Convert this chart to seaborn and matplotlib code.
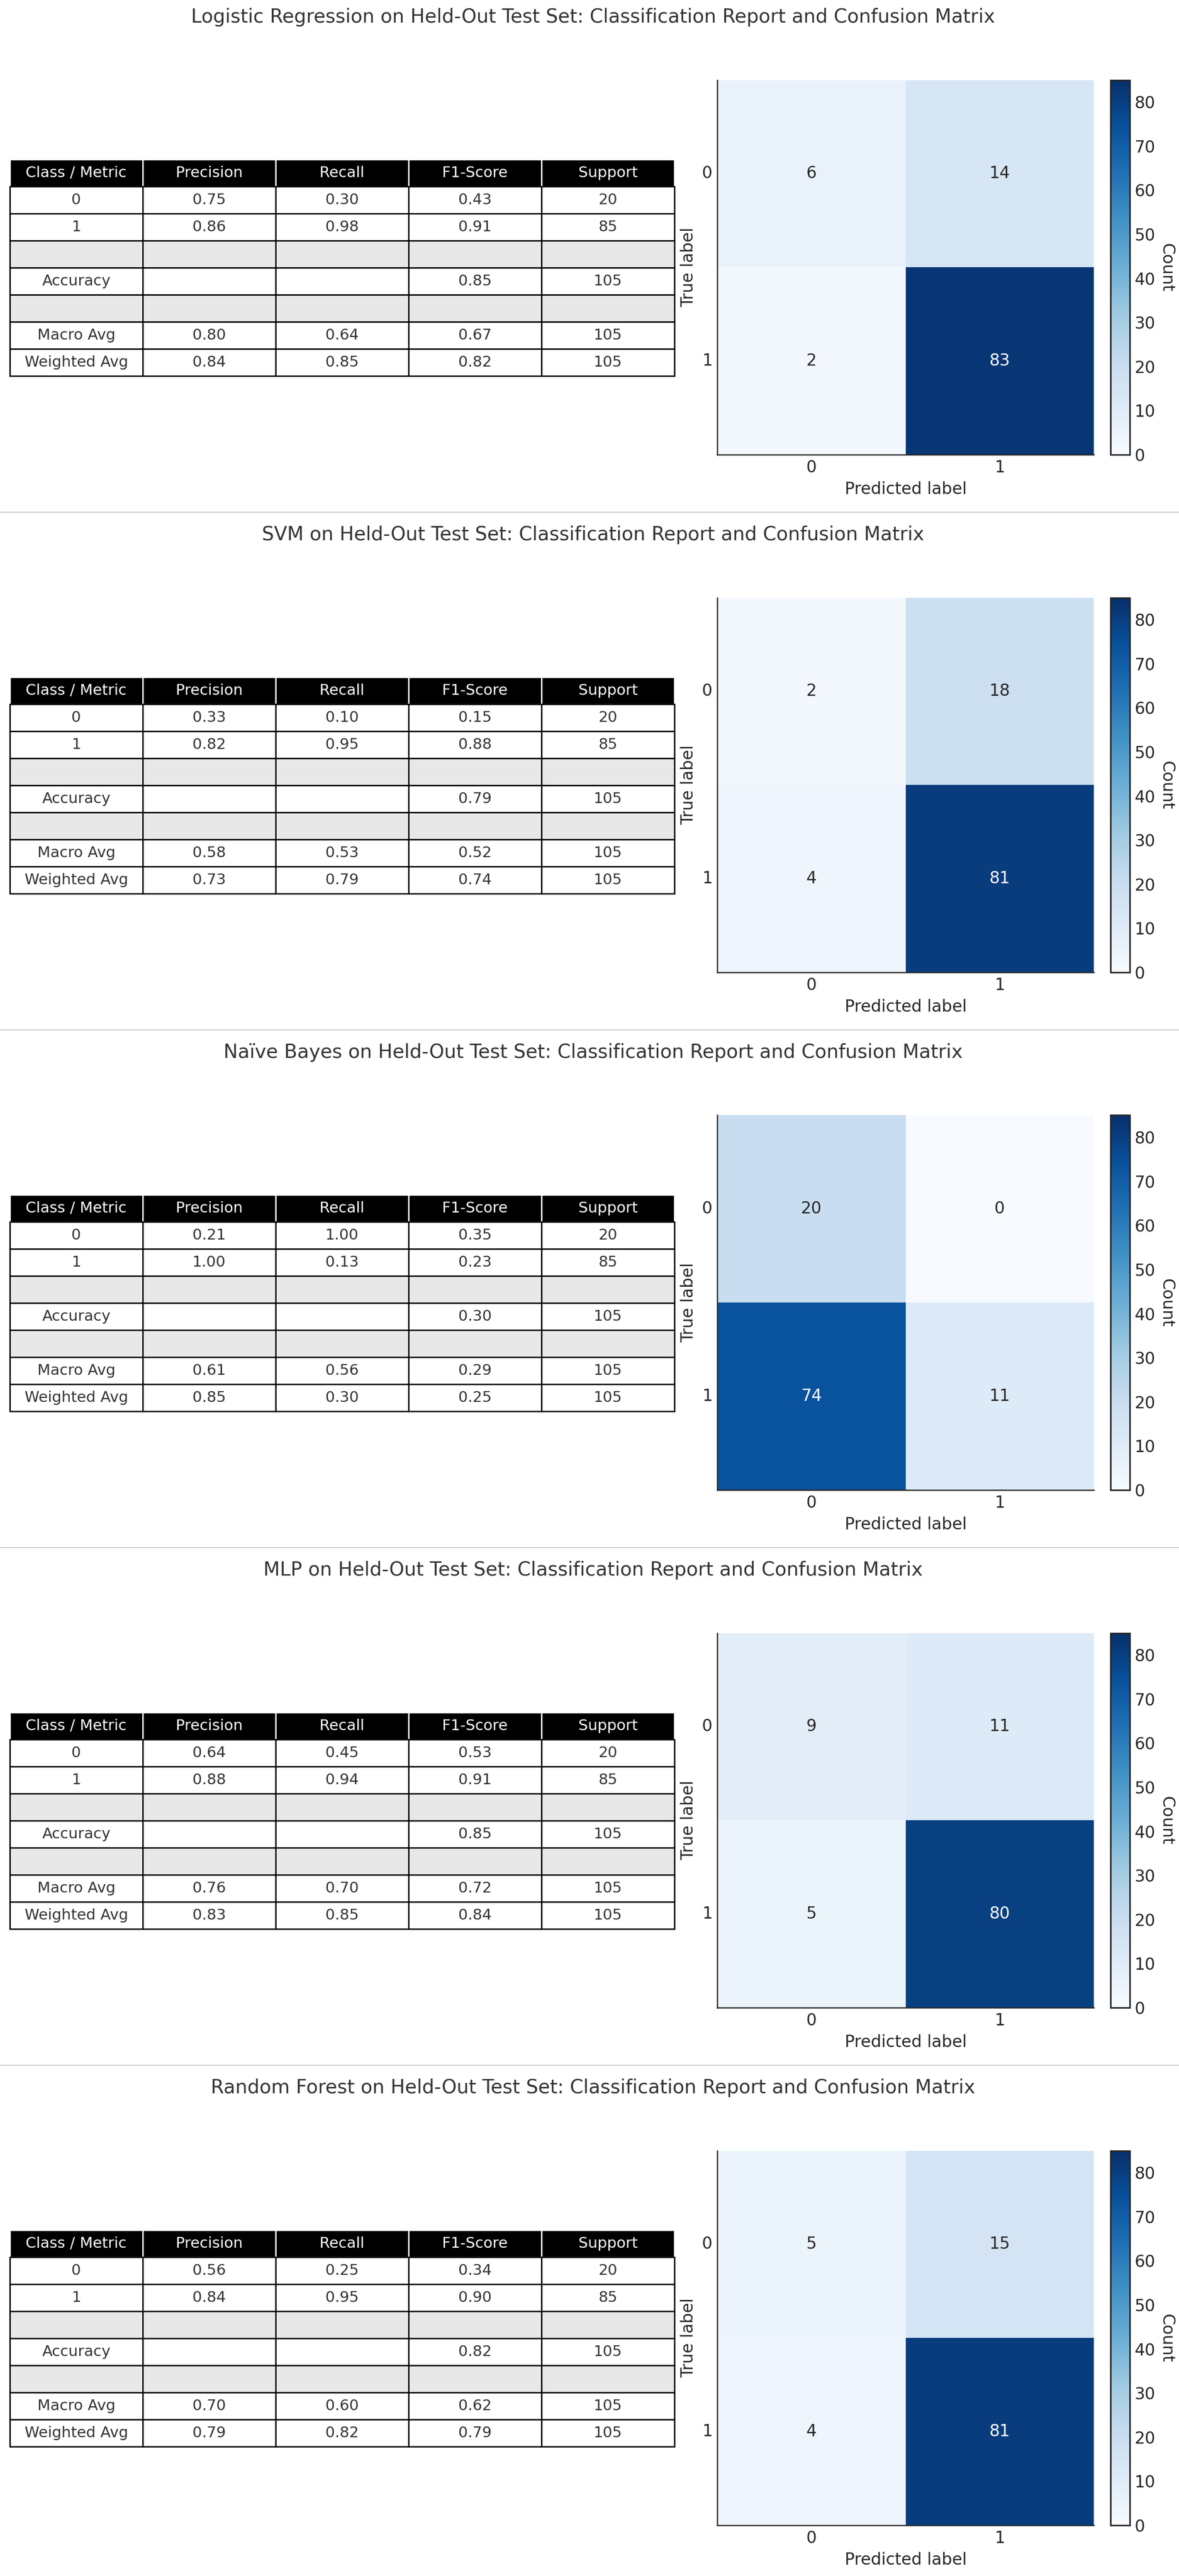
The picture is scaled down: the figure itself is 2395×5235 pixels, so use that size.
import numpy as np
import pandas as pd
import matplotlib
matplotlib.use("Agg")
import matplotlib.pyplot as plt
from matplotlib.lines import Line2D
import seaborn as sns

# ---------------- data ----------------
models = ["Logistic Regression", "SVM", "Naïve Bayes", "MLP", "Random Forest"]

col_labels = ["Class / Metric", "Precision", "Recall", "F1-Score", "Support"]
row_names = ["0", "1", "", "Accuracy", "", "Macro Avg", "Weighted Avg"]

# per-model report values: [precision, recall, f1, support] for class 0, class 1,
# accuracy f1, macro avg, weighted avg
class0 = [[0.75, 0.30, 0.43, 20], [0.33, 0.10, 0.15, 20], [0.21, 1.00, 0.35, 20],
          [0.64, 0.45, 0.53, 20], [0.56, 0.25, 0.34, 20]]
class1 = [[0.86, 0.98, 0.91, 85], [0.82, 0.95, 0.88, 85], [1.00, 0.13, 0.23, 85],
          [0.88, 0.94, 0.91, 85], [0.84, 0.95, 0.90, 85]]
accuracy = [0.85, 0.79, 0.30, 0.85, 0.82]
total_support = [105, 105, 105, 105, 105]
macro = [[0.80, 0.64, 0.67], [0.58, 0.53, 0.52], [0.61, 0.56, 0.29],
         [0.76, 0.70, 0.72], [0.70, 0.60, 0.62]]
weighted = [[0.84, 0.85, 0.82], [0.73, 0.79, 0.74], [0.85, 0.30, 0.25],
            [0.83, 0.85, 0.84], [0.79, 0.82, 0.79]]

conf_mats = [
    [[6, 14], [2, 83]],
    [[2, 18], [4, 81]],
    [[20, 0], [74, 11]],
    [[9, 11], [5, 80]],
    [[5, 15], [4, 81]],
]
class_ticks = ["0", "1"]
cmap_max = 85

# ---------------- style ----------------
sns.set_theme(style="ticks", rc={
    "axes.grid": True,
    "grid.linestyle": "--",
    "grid.color": "#c8c8c8",
    "grid.linewidth": 0.6,
    "xtick.direction": "in",
    "ytick.direction": "in",
    "axes.edgecolor": "#262626",
    "axes.linewidth": 0.9,
})
plt.rcParams["font.family"] = ["DejaVu Sans"]

W, H = 2395, 5235
DPI = 200
fig = plt.figure(figsize=(W / DPI, H / DPI), dpi=DPI)


def rect(x0, y0, x1, y1):
    return [x0 / W, 1 - y1 / H, (x1 - x0) / W, (y1 - y0) / H]


PERIOD = 1052
for k, name in enumerate(models):
    off = k * PERIOD
    # title
    fig.text(1205 / W, 1 - (35 + off) / H,
             f"{name} on Held-Out Test Set: Classification Report and Confusion Matrix",
             ha="center", va="center", fontsize=14, color="#333333")

    # ---- table ----
    tax = fig.add_axes(rect(20, 324 + off, 1370, 764 + off))
    tax.axis("off")
    c0, c1 = class0[k], class1[k]
    cells = [
        [row_names[0], f"{c0[0]:.2f}", f"{c0[1]:.2f}", f"{c0[2]:.2f}", f"{c0[3]}"],
        [row_names[1], f"{c1[0]:.2f}", f"{c1[1]:.2f}", f"{c1[2]:.2f}", f"{c1[3]}"],
        ["", "", "", "", ""],
        [row_names[3], "", "", f"{accuracy[k]:.2f}", f"{total_support[k]}"],
        ["", "", "", "", ""],
        [row_names[5]] + [f"{v:.2f}" for v in macro[k]] + [f"{total_support[k]}"],
        [row_names[6]] + [f"{v:.2f}" for v in weighted[k]] + [f"{total_support[k]}"],
    ]
    tbl = tax.table(cellText=cells, colLabels=col_labels, cellLoc="center",
                    loc="center", bbox=[0, 0, 1, 1])
    tbl.auto_set_font_size(False)
    tbl.set_fontsize(11)
    for (r, c), cell in tbl.get_celld().items():
        cell.set_linewidth(1.0)
        if r == 0:
            cell.set_facecolor("black")
            cell.set_edgecolor("white")
            cell.get_text().set_color("white")
        else:
            cell.set_edgecolor("black")
            cell.get_text().set_color("#333333")
            if all(v == "" for v in cells[r - 1]):
                cell.set_facecolor("#e8e8e8")
            else:
                cell.set_facecolor("white")

    # ---- confusion matrix ----
    hax = fig.add_axes(rect(1457, 162.5 + off, 2222, 924 + off))
    cax = fig.add_axes(rect(2256, 162.5 + off, 2295, 924 + off))
    df = pd.DataFrame(conf_mats[k], index=class_ticks, columns=class_ticks)
    sns.heatmap(df, ax=hax, cbar_ax=cax, cmap="Blues", vmin=0, vmax=cmap_max,
                annot=True, fmt="d", annot_kws={"size": 12},
                cbar_kws={"label": "Count"})
    hax.grid(True, linestyle="--", color="#c8c8c8", linewidth=0.6)
    for s in ["left", "bottom"]:
        hax.spines[s].set_visible(True)
        hax.spines[s].set_color("#262626")
        hax.spines[s].set_linewidth(0.9)
    for s in ["top", "right"]:
        hax.spines[s].set_visible(False)
    hax.tick_params(axis="both", direction="in", length=3.5, width=0.9,
                    labelsize=12, colors="#262626", left=True, bottom=True)
    hax.set_yticklabels(class_ticks, rotation=0)
    hax.set_xticklabels(class_ticks, rotation=0)
    hax.set_xlabel("Predicted label", fontsize=12, color="#262626")
    hax.set_ylabel("True label", fontsize=12, color="#262626")

    cax.grid(False)
    cax.tick_params(direction="in", length=3.5, width=0.9, labelsize=12,
                    colors="#262626", right=True, left=False)
    cbar = hax.collections[0].colorbar
    cbar.outline.set_visible(True)
    cbar.outline.set_edgecolor("#262626")
    cbar.outline.set_linewidth(1.1)
    cbar.set_label("Count", rotation=270, labelpad=14, fontsize=12, color="#262626")

    # separator
    if k < len(models) - 1:
        y = 1 - (1041 + off) / H
        fig.add_artist(Line2D([0, 1], [y, y], transform=fig.transFigure,
                              color="#cccccc", linewidth=0.8))

fig.savefig("out.png", dpi=DPI)
